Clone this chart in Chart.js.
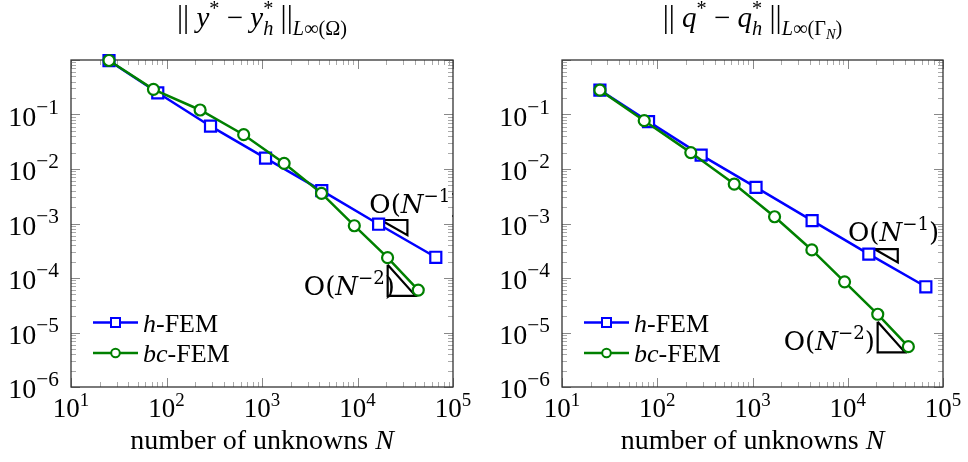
<!DOCTYPE html>
<html><head><meta charset="utf-8">
<script src="https://cdn.jsdelivr.net/npm/chart.js@4/dist/chart.umd.min.js"></script>
<style>
html,body{margin:0;padding:0;background:#fff;}
#wrap{position:relative;width:968px;height:462px;overflow:hidden;}
canvas{position:absolute;top:0;}
#c1{left:0;} #c2{left:484px;}
</style></head>
<body><div id="wrap"><canvas id="c1" width="484" height="462"></canvas><canvas id="c2" width="484" height="462"></canvas></div>
<script>
// ---------- data ----------
const N_h  = [25, 81, 289, 1089, 4225, 16641, 66049];
const N_bc = [25, 73, 225, 643, 1705, 4200, 9260, 20650, 43280];
const errY_h  = [0.97, 0.25, 0.061, 0.0158, 0.0040, 0.00097, 0.00024];
const errY_bc = [0.98, 0.29, 0.121, 0.0426, 0.0127, 0.00358, 0.00091, 0.000236, 0.00006];
const errQ_h  = [0.28, 0.074, 0.018, 0.0046, 0.00113, 0.000275, 0.000069];
const errQ_bc = [0.28, 0.077, 0.020, 0.0053, 0.00133, 0.000327, 0.0000849, 0.0000216, 0.0000055];
const xTickExps = [1, 2, 3, 4, 5];
const yTickExps = [-6, -5, -4, -3, -2, -1];
const yMajorExps = [-6, -5, -4, -3, -2, -1, 0];
const seriesNames = [['h', '-FEM'], ['bc', '-FEM']];
const xAxisLabel = ['number of unknowns ', 'N'];
// slope triangles (data units): [N, err]
const triY1 = [[17500, 1.16e-3], [33300, 1.16e-3], [33300, 6.1e-4], [17500, 1.16e-3]];
const triY2 = [[20700, 1.75e-4], [20700, 4.7e-5], [40500, 4.7e-5], [20700, 1.75e-4]];
const triQ1 = [[19000, 3.4e-4], [33500, 3.4e-4], [33500, 1.93e-4], [19000, 3.4e-4]];
const triQ2 = [[20600, 1.58e-5], [20600, 4.33e-6], [39900, 4.33e-6], [20600, 1.58e-5]];
// slope label anchors (data units) : [N, err]
const labY1 = [13300, 2.28e-3];  // left-aligned
const labY2 = [24700, 7.1e-5];   // right-aligned
const labQ1 = [10070, 6.98e-4];  // left-aligned
const labQ2 = [19300, 6.98e-6];  // right-aligned

const FONT = '"Liberation Serif", "DejaVu Serif", serif';
const FONT2 = '"DejaVu Serif", serif';
const BLUE = '#0000ff', GREEN = '#008000';

function rich(ctx, parts, x, y, align, base) {
  const items = parts.map(p => {
    const size = base * (p.s || 1);
    const font = (p.i ? 'italic ' : '') + size.toFixed(1) + 'px ' + (p.f || FONT);
    ctx.font = font;
    const w = ctx.measureText(p.t).width;
    return {p, font, adv: p.n ? 0 : w, dy: -(p.r || 0) * base};
  });
  const total = items.reduce((a, b) => a + b.adv, 0);
  let cx = align === 'center' ? x - total / 2 : align === 'right' ? x - total : x;
  ctx.textAlign = 'left'; ctx.textBaseline = 'alphabetic';
  for (const it of items) { ctx.font = it.font; ctx.fillText(it.p.t, cx, y + it.dy); cx += it.adv; }
  return total;
}
function pow10(e, s) { return [{t: '10'}, {t: (e < 0 ? '\u2212' : '') + Math.abs(e), s: s || 0.7, r: 0.42}]; }
function slopeParts(k) {
  return [{t: 'O(', f: FONT2}, {t: 'N', i: true, f: FONT2}, {t: '\u2212' + k, s: 0.7, r: 0.42, f: FONT2}, {t: ')', f: FONT2}];
}

function decor(opts) {
  return {
    id: 'decor',
    beforeDatasetsDraw(chart) {
      const ctx = chart.ctx, a = chart.chartArea, xs = chart.scales.x, ys = chart.scales.y;
      ctx.save();
      const drawTick = (len, col, horiz, p) => {
        ctx.strokeStyle = col; ctx.lineWidth = 1;
        ctx.beginPath();
        if (horiz) {
          ctx.moveTo(p, a.bottom); ctx.lineTo(p, a.bottom - len);
          ctx.moveTo(p, a.top); ctx.lineTo(p, a.top + len);
        } else {
          ctx.moveTo(a.left, p); ctx.lineTo(a.left + len, p);
          ctx.moveTo(a.right, p); ctx.lineTo(a.right - len, p);
        }
        ctx.stroke();
      };
      for (let e = 1; e <= 5; e++) {
        drawTick(9, '#888', true, Math.round(xs.getPixelForValue(Math.pow(10, e))) + 0.5);
        if (e < 5) for (let j = 2; j <= 9; j++) drawTick(5, '#aaa', true, Math.round(xs.getPixelForValue(j * Math.pow(10, e))) + 0.5);
      }
      for (const e of yMajorExps) {
        drawTick(9, '#888', false, Math.round(ys.getPixelForValue(Math.pow(10, e))) + 0.5);
        if (e < 0) for (let j = 2; j <= 9; j++) drawTick(5, '#aaa', false, Math.round(ys.getPixelForValue(j * Math.pow(10, e))) + 0.5);
      }
      ctx.strokeStyle = '#333'; ctx.lineWidth = 1.3;
      ctx.strokeRect(a.left, a.top, a.right - a.left, a.bottom - a.top);
      ctx.fillStyle = '#000';
      for (const e of xTickExps) rich(ctx, pow10(e), xs.getPixelForValue(Math.pow(10, e)), a.bottom + 30, 'center', 27);
      for (const e of yTickExps) rich(ctx, pow10(e, 0.76), a.left - 12, ys.getPixelForValue(Math.pow(10, e)) + 11, 'right', 28);
      rich(ctx, [{t: xAxisLabel[0]}, {t: xAxisLabel[1], i: true}], (a.left + a.right) / 2, 449, 'center', 28);
      rich(ctx, opts.title, (a.left + a.right) / 2, 27, 'center', 29);
      const lx = a.left + 22, rows = [322.5, 353];
      seriesNames.forEach((nm, i) => {
        const y = rows[i], col = i === 0 ? BLUE : GREEN;
        ctx.strokeStyle = col; ctx.lineWidth = 2.5;
        ctx.beginPath(); ctx.moveTo(lx, y); ctx.lineTo(lx + 45, y); ctx.stroke();
        ctx.lineWidth = 2; ctx.fillStyle = '#fff';
        ctx.beginPath();
        if (i === 0) ctx.rect(lx + 22.5 - 4.5, y - 4.5, 9, 9); else ctx.arc(lx + 22.5, y, 4.3, 0, 2 * Math.PI);
        ctx.fill(); ctx.stroke();
        ctx.fillStyle = '#000';
        rich(ctx, [{t: nm[0], i: true}, {t: nm[1]}], lx + 50, y + 9, 'left', 26);
      });
      ctx.restore();
    },
    afterDatasetsDraw(chart) {
      const ctx = chart.ctx, a = chart.chartArea, xs = chart.scales.x, ys = chart.scales.y;
      ctx.save();
      ctx.beginPath(); ctx.rect(a.left, 0, a.right - a.left, chart.height); ctx.clip();
      ctx.fillStyle = '#000';
      rich(ctx, slopeParts(1), xs.getPixelForValue(opts.lab1[0]), ys.getPixelForValue(opts.lab1[1]) + 9, 'left', 26);
      rich(ctx, slopeParts(2), xs.getPixelForValue(opts.lab2[0]), ys.getPixelForValue(opts.lab2[1]) + 9, 'right', 26);
      ctx.restore();
    }
  };
}

function pts(ns, vs) { return ns.map((n, i) => ({x: n, y: vs[i]})); }
function tri(t) { return t.map(p => ({x: p[0], y: p[1]})); }

function makeChart(id, pad, eh, ebc, t1, t2, opts) {
  return new Chart(document.getElementById(id), {
    type: 'line',
    data: {datasets: [
      {label: 'h-FEM', data: pts(N_h, eh), borderColor: BLUE, borderWidth: 2.5, pointStyle: 'rect',
       pointRadius: 7.8, pointBorderWidth: 2.2, pointBackgroundColor: '#fff', pointBorderColor: BLUE, clip: false, order: 2},
      {label: 'bc-FEM', data: pts(N_bc, ebc), borderColor: GREEN, borderWidth: 2.5, pointStyle: 'circle',
       pointRadius: 5.5, pointBorderWidth: 2.2, pointBackgroundColor: '#fff', pointBorderColor: GREEN, clip: false, order: 1},
      {label: 't1', data: tri(t1), borderColor: '#000', borderWidth: 2.2, pointRadius: 0, clip: false, order: 3},
      {label: 't2', data: tri(t2), borderColor: '#000', borderWidth: 2.2, pointRadius: 0, clip: false, order: 3}
    ]},
    options: {
      responsive: false, animation: false, events: [],
      layout: {padding: pad},
      plugins: {legend: {display: false}, tooltip: {enabled: false}, title: {display: false}},
      scales: {
        x: {type: 'logarithmic', min: 10, max: 1e5, display: false},
        y: {type: 'logarithmic', min: 1e-6, max: 1, display: false}
      }
    },
    plugins: [decor(opts)]
  });
}

const sup = (t) => ({t, s: 0.7, r: 0.42});
const sub = (t, i) => ({t, s: 0.7, r: -0.28, i: !!i});
const bar = {t: '||', s: 1.05};
makeChart('c1', {left: 71, right: 31, top: 60, bottom: 75}, errY_h, errY_bc, triY1, triY2, {
  title: [bar, {t: ' '}, {t: 'y', i: true}, sup('*'), {t: ' \u2212 '}, {t: 'y', i: true}, {t: '*', s: 0.7, r: 0.42, n: true},
          sub('h', true), {t: ' '}, bar, sub('L', true), sub('\u221e(\u03a9)')],
  lab1: labY1, lab2: labY2
});
makeChart('c2', {left: 78, right: 25, top: 60, bottom: 75}, errQ_h, errQ_bc, triQ1, triQ2, {
  title: [bar, {t: ' '}, {t: 'q', i: true}, sup('*'), {t: ' \u2212 '}, {t: 'q', i: true}, {t: '*', s: 0.7, r: 0.42, n: true},
          sub('h', true), {t: ' '}, bar, sub('L', true), sub('\u221e(\u0393'), {t: 'N', i: true, s: 0.5, r: -0.42}, sub(')')],
  lab1: labQ1, lab2: labQ2
});
</script></body></html>
